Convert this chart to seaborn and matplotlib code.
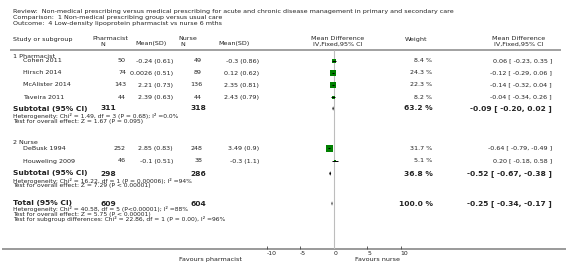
import matplotlib
matplotlib.use("Agg")
import matplotlib.pyplot as plt
import seaborn as sns

# --- data ------------------------------------------------------------------
estudios = ['Cohen 2011', 'Hirsch 2014', 'McAlister 2014', 'Taveira 2011',
            'DeBusk 1994', 'Houweling 2009']
grupo = [1, 1, 1, 1, 2, 2]
ph_n = [50, 74, 143, 44, 252, 46]
ph_media = [-0.24, 0.0026, 2.21, 2.39, 2.85, -0.1]
ph_sd = [0.61, 0.51, 0.73, 0.63, 0.83, 0.51]
nu_n = [49, 89, 136, 44, 248, 38]
nu_media = [-0.3, 0.12, 2.35, 2.43, 3.49, -0.3]
nu_sd = [0.86, 0.62, 0.81, 0.79, 0.9, 1.1]
peso = [8.4, 24.3, 22.3, 8.2, 31.7, 5.1]
md = [0.06, -0.12, -0.14, -0.04, -0.64, 0.20]
md_lo = [-0.23, -0.29, -0.32, -0.34, -0.79, -0.18]
md_hi = [0.35, 0.06, 0.04, 0.26, -0.49, 0.58]

grupos = ['1 Pharmacist', '2 Nurse']
sub_ph_n = [311, 298]
sub_nu_n = [318, 286]
sub_peso = [63.2, 36.8]
sub_md = [-0.09, -0.52]
sub_lo = [-0.20, -0.67]
sub_hi = [0.02, -0.38]
sub_notas = [
    ['Heterogeneity: Chi\u00b2 = 1.49, df = 3 (P = 0.68); I\u00b2 =0.0%',
     'Test for overall effect: Z = 1.67 (P = 0.095)'],
    ['Heterogeneity: Chi\u00b2 = 16.22, df = 1 (P = 0.00006); I\u00b2 =94%',
     'Test for overall effect: Z = 7.29 (P < 0.00001)'],
]

tot_ph_n, tot_nu_n, tot_peso = 609, 604, 100.0
tot_md, tot_lo, tot_hi = -0.25, -0.34, -0.17
tot_notas = ['Heterogeneity: Chi\u00b2 = 40.58, df = 5 (P<0.00001); I\u00b2 =88%',
             'Test for overall effect: Z = 5.75 (P < 0.00001)',
             'Test for subgroup differences: Chi\u00b2 = 22.86, df = 1 (P = 0.00), I\u00b2 =96%']

ticks = [-10, -5, 0, 5, 10]

# --- layout (pixel rows) ----------------------------------------------------
y_estudio = [61, 73, 85, 97.3, 148.3, 161]
y_grupo = [56, 142.7]
y_sub = [108.5, 173.5]
y_total = 203.5
y_eje = 248.5

sns.set_theme(style='white')
plt.rcParams['font.family'] = ['DejaVu Sans']
FS = 4.6
FSB = 5.4
GRIS_TXT = '#222222'

fig = plt.figure(figsize=(5.66, 2.72), dpi=100)
ax = fig.add_axes([0, 0, 1, 1])
ax.set_xlim(0, 566)
ax.set_ylim(272, 0)
ax.axis('off')


def txt(x, y, s, ha='left', size=FS, weight='normal'):
    ax.text(x, y, s, ha=ha, va='center', fontsize=size, fontweight=weight, color=GRIS_TXT)


# header
txt(13, 11, 'Review:  Non-medical prescribing versus medical prescribing for acute and chronic disease management in primary and secondary care')
txt(13, 17, 'Comparison:  1 Non-medical prescribing group versus usual care')
txt(13, 23, 'Outcome:  4 Low-density lipoprotein pharmacist vs nurse 6 mths')

txt(13, 39.5, 'Study or subgroup')
txt(92, 39, 'Pharmacist')
txt(103, 44, 'N', ha='center')
txt(135, 44, 'Mean(SD)')
txt(178, 39, 'Nurse')
txt(183, 44, 'N', ha='center')
txt(218, 44, 'Mean(SD)')
txt(338, 39, 'Mean Difference', ha='center')
txt(338, 44, 'IV,Fixed,95% CI', ha='center')
txt(416, 39, 'Weight', ha='center')
txt(519, 39, 'Mean Difference', ha='center')
txt(519, 44, 'IV,Fixed,95% CI', ha='center')

ax.plot([10, 561], [49.5, 49.5], color='#9a9a9a', lw=1.3, solid_capstyle='butt')
ax.plot([2, 566], [y_eje, y_eje], color='#9a9a9a', lw=1.4, solid_capstyle='butt')

# study rows
for i, nombre in enumerate(estudios):
    y = y_estudio[i]
    txt(23, y, nombre)
    txt(126, y, f'{ph_n[i]}', ha='right')
    txt(173, y, f'{ph_media[i]:g} ({ph_sd[i]:g})', ha='right')
    txt(202, y, f'{nu_n[i]}', ha='right')
    txt(259, y, f'{nu_media[i]:g} ({nu_sd[i]:g})', ha='right')
    txt(432, y, f'{peso[i]:.1f} %', ha='right')
    txt(552, y, f'{md[i]:.2f} [ {md_lo[i]:.2f}, {md_hi[i]:.2f} ]', ha='right')

# subgroup rows
for g in range(len(grupos)):
    txt(13, y_grupo[g], grupos[g])
    y = y_sub[g]
    txt(13, y, 'Subtotal (95% CI)', size=FSB, weight='bold')
    txt(116, y, f'{sub_ph_n[g]}', ha='right', size=FSB, weight='bold')
    txt(206, y, f'{sub_nu_n[g]}', ha='right', size=FSB, weight='bold')
    txt(433, y, f'{sub_peso[g]:.1f} %', ha='right', size=FSB, weight='bold')
    txt(552, y, f'{sub_md[g]:.2f} [ {sub_lo[g]:.2f}, {sub_hi[g]:.2f} ]', ha='right', size=FSB, weight='bold')
    for k, nota in enumerate(sub_notas[g]):
        txt(13, y + 7.5 + 5 * k, nota, size=FS - 0.3)

txt(13, y_total, 'Total (95% CI)', size=FSB, weight='bold')
txt(116, y_total, f'{tot_ph_n}', ha='right', size=FSB, weight='bold')
txt(206, y_total, f'{tot_nu_n}', ha='right', size=FSB, weight='bold')
txt(433, y_total, f'{tot_peso:.1f} %', ha='right', size=FSB, weight='bold')
txt(552, y_total, f'{tot_md:.2f} [ {tot_lo:.2f}, {tot_hi:.2f} ]', ha='right', size=FSB, weight='bold')
for k, nota in enumerate(tot_notas):
    txt(13, y_total + 6 + 5 * k, nota, size=FS - 0.3)

txt(242, 259.5, 'Favours pharmacist', ha='right')
txt(355, 259.5, 'Favours nurse')

# --- forest panel -----------------------------------------------------------
x0, x1 = 266.7, 400.7
fx = fig.add_axes([x0 / 566, 0, (x1 - x0) / 566, 1])
fx.set_facecolor('none')
fx.set_xlim(-10, 10)
fx.set_ylim(272, 0)
for lado in ['top', 'left', 'right']:
    fx.spines[lado].set_visible(False)
fx.spines['bottom'].set_position(('data', y_eje))
fx.spines['bottom'].set_color('none')
fx.set_yticks([])
fx.set_xticks(ticks)
fx.set_xticklabels([str(t) for t in ticks], fontsize=FS - 0.2, color=GRIS_TXT, ha='left')
fx.tick_params(axis='x', direction='in', length=2.5, width=0.6, color='#444444', pad=1.5,
               bottom=True)

fx.vlines(0, 49.5, y_eje, color='#bdbdbd', lw=0.8, zorder=1)

sns.scatterplot(x=md, y=y_estudio, size=peso, sizes=(0.81 * min(peso), 0.81 * max(peso)),
                size_norm=(min(peso), max(peso)), marker='s', color='#008000',
                linewidth=0, legend=False, ax=fx, zorder=3)
fx.hlines(y_estudio, md_lo, md_hi, color='black', lw=0.7, zorder=4)

h = 2.2
for e, lo, hi, y in zip(sub_md + [tot_md], sub_lo + [tot_lo], sub_hi + [tot_hi], y_sub + [y_total]):
    fx.fill([lo, e, hi, e], [y, y - h, y, y + h], color='black', lw=0, zorder=4)

fig.savefig('out.png', dpi=100)
